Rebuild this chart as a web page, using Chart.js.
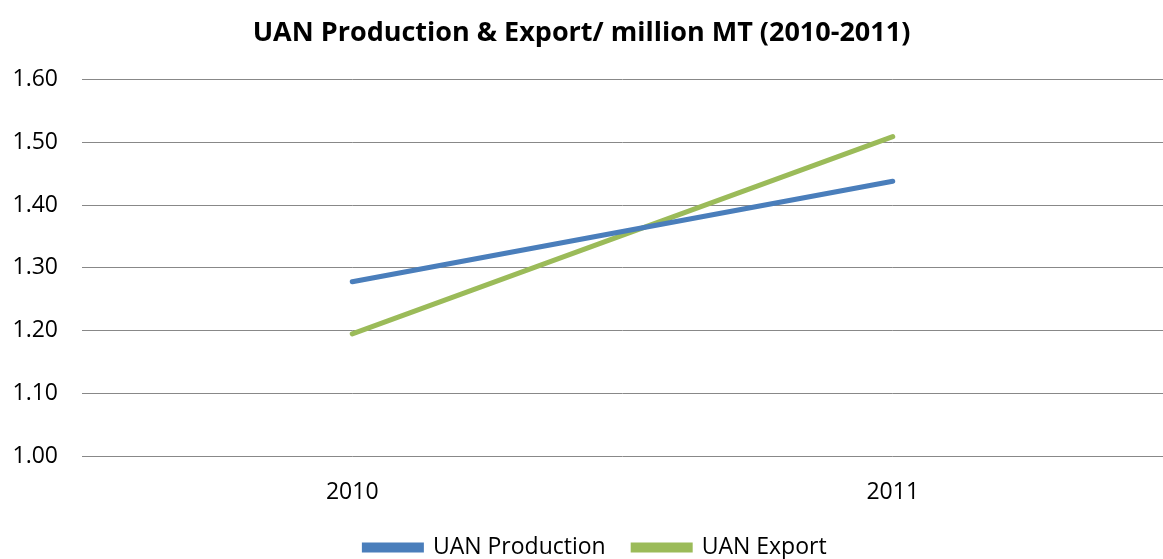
<!DOCTYPE html>
<html>
<head>
<meta charset="utf-8">
<script src="https://cdn.jsdelivr.net/npm/chart.js@4"></script>
<style>
html,body{margin:0;padding:0;background:#fff;}
#wrap{width:1163px;height:559px;position:relative;}
</style>
</head>
<body>
<div id="wrap"><canvas id="c" width="1163" height="559"></canvas></div>
<script>
const categories = ['2010', '2011'];
const productionValues = [1.278, 1.438];
const exportValues = [1.195, 1.509];
const seriesNames = ['UAN Production', 'UAN Export'];
const chartTitle = 'UAN Production & Export/ million MT (2010-2011)';

const FONT = '"Open Sans", Lato, sans-serif';

const legendShift = {
  id: 'legendShift',
  afterLayout(chart) {
    if (chart.legend) { chart.legend.left += 14; chart.legend.right += 14; }
  }
};

new Chart(document.getElementById('c'), {
  type: 'line',
  data: {
    labels: categories,
    datasets: [
      { label: seriesNames[0], data: productionValues, borderColor: '#4A7EBB', backgroundColor: '#4A7EBB',
        borderWidth: 5, pointRadius: 0, tension: 0, borderCapStyle: 'round' },
      { label: seriesNames[1], data: exportValues, borderColor: '#9BBB59', backgroundColor: '#9BBB59',
        borderWidth: 5, pointRadius: 0, tension: 0, borderCapStyle: 'round' }
    ]
  },
  plugins: [legendShift],
  options: {
    responsive: false,
    animation: false,
    devicePixelRatio: 1,
    layout: { padding: { left: 0, right: 0, top: 17, bottom: -10 } },
    plugins: {
      title: { display: true, text: chartTitle, color: '#000',
        font: { family: FONT, size: 27, weight: 'bold' }, padding: { top: 0, bottom: 30 } },
      legend: { position: 'bottom',
        labels: { color: '#000', font: { family: FONT, size: 23 }, boxWidth: 57, boxHeight: 5, padding: 16,
          generateLabels: (chart) => {
            const items = Chart.defaults.plugins.legend.labels.generateLabels(chart);
            items.forEach((it, i) => { if (i < items.length - 1) it.text = it.text + '\u2002'; });
            return items;
          } } },
      tooltip: { enabled: false }
    },
    scales: {
      x: {
        offset: true,
        grid: { display: false },
        border: { display: false },
        ticks: { color: '#000', font: { family: FONT, size: 23 }, padding: 14 }
      },
      y: {
        min: 1.0, max: 1.6,
        afterFit: (s) => { s.width = 82; },
        grid: { color: '#888', lineWidth: 1, drawTicks: false },
        border: { display: false },
        ticks: { stepSize: 0.1, color: '#000', font: { family: FONT, size: 23 }, padding: 24,
          callback: (v) => Number(v).toFixed(2) }
      }
    }
  }
});
</script>
</body>
</html>
